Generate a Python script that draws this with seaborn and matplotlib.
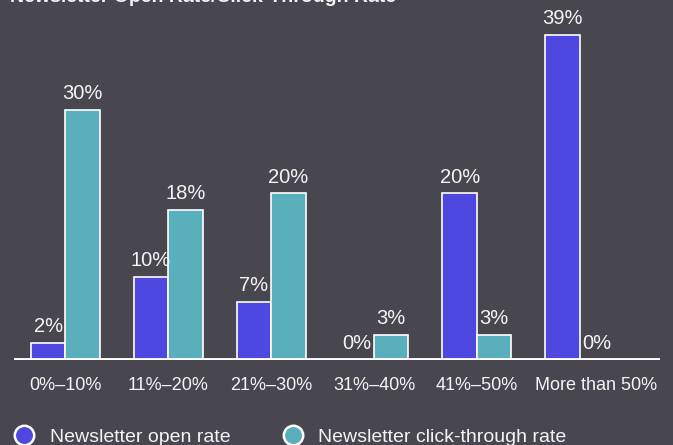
import pandas as pd
import matplotlib.pyplot as plt
import seaborn as sns
from matplotlib.lines import Line2D
from matplotlib.transforms import ScaledTranslation

# data
categories = ['0%–10%', '11%–20%', '21%–30%', '31%–40%', '41%–50%', 'More than 50%']
open_rate = [2, 10, 7, 0, 20, 39]
click_rate = [30, 18, 20, 3, 3, 0]
series = ['Newsletter open rate', 'Newsletter click-through rate']

bg = '#48474f'
colors = ['#4f48e0', '#5aafbc']
fg = '#f4f4f4'

df = pd.DataFrame({
    'range': categories * 2,
    'rate': open_rate + click_rate,
    'series': [series[0]] * len(categories) + [series[1]] * len(categories),
})

sns.set_theme(style='white')
plt.rcParams['font.family'] = ['Liberation Sans', 'DejaVu Sans']

fig = plt.figure(figsize=(6.73, 4.45), dpi=100, facecolor=bg)
ax = fig.add_axes([14 / 673, 85 / 445, 646 / 673, 333 / 445])
ax.set_facecolor(bg)

sns.barplot(data=df, x='range', y='rate', hue='series', palette=colors, saturation=1,
            width=0.67, edgecolor='white', linewidth=1.2, ax=ax, legend=False)

for c in ax.containers:
    ax.bar_label(c, fmt='%g%%', padding=5, color=fg, fontsize=14.5)

ax.set_xlim(-0.5, 5.78)
ax.set_ylim(0, 40)
ax.axhline(0, color='white', lw=3.5, zorder=5)
for s in ax.spines.values():
    s.set_visible(False)
ax.set_yticks([])
ax.set_xlabel('')
ax.set_ylabel('')
ax.tick_params(axis='x', length=0, pad=12, labelsize=13, labelcolor=fg)
# last label sits a bit right of its group in the reference
last = ax.get_xticklabels()[-1]
last.set_transform(last.get_transform() + ScaledTranslation(0.16, 0, fig.dpi_scale_trans))

fig.text(0.015, 0.996, 'Newsletter Open Rate/Click-Through Rate', color=fg,
         fontsize=14, fontweight='bold', va='baseline')

handles = [Line2D([], [], marker='o', ls='', markersize=14, markerfacecolor=col,
                  markeredgecolor='white', markeredgewidth=1.8) for col in colors]
fig.legend(handles, series, loc='lower left', bbox_to_anchor=(-0.01, -0.042), ncol=2,
           frameon=False, fontsize=14, labelcolor=fg, handletextpad=0.6,
           columnspacing=2.5, handlelength=1.4)

fig.savefig('out.png', dpi=100, facecolor=bg)
